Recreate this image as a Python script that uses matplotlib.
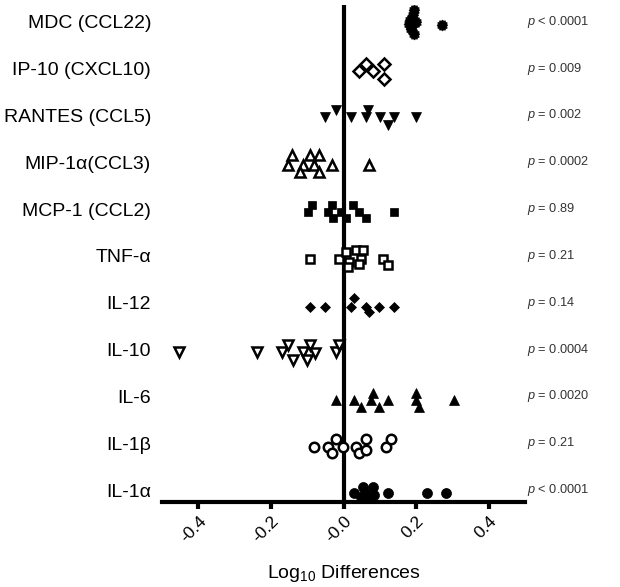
import numpy as np
import matplotlib
matplotlib.use('Agg')
import matplotlib.pyplot as plt

plt.rcParams['font.family'] = ['Liberation Sans', 'DejaVu Sans']
plt.rcParams['mathtext.fontset'] = 'custom'
plt.rcParams['mathtext.rm'] = 'Liberation Sans'
plt.rcParams['mathtext.it'] = 'Liberation Sans:italic'

# categories, bottom to top
labels = ['IL-1\u03b1', 'IL-1\u03b2', 'IL-6', 'IL-10', 'IL-12', 'TNF-\u03b1',
          'MCP-1 (CCL2)', 'MIP-1\u03b1(CCL3)', 'RANTES (CCL5)', 'IP-10 (CXCL10)',
          'MDC (CCL22)']
pvals = ['< 0.0001', '= 0.21', '= 0.0020', '= 0.0004', '= 0.14', '= 0.21',
         '= 0.89', '= 0.0002', '= 0.002', '= 0.009', '< 0.0001']

# log10 differences per cytokine, with the vertical spread of each dot
il1a_x = [0.028, 0.053, 0.081, 0.047, 0.067, 0.083, 0.060, 0.122, 0.231, 0.281]
il1a_dy = [-0.06, 0.06, 0.06, -0.15, -0.15, -0.10, -0.06, -0.06, -0.06, -0.06]
il1b_x = [-0.083, -0.044, -0.031, -0.022, -0.003, 0.033, 0.042, 0.061, 0.061, 0.117, 0.131]
il1b_dy = [-0.08, -0.08, -0.21, 0.09, -0.08, -0.08, -0.21, 0.09, -0.15, -0.08, 0.09]
il6_x = [-0.022, 0.028, 0.047, 0.075, 0.081, 0.097, 0.122, 0.200, 0.200, 0.208, 0.303]
il6_dy = [-0.08, -0.08, -0.23, -0.08, 0.07, -0.23, -0.08, 0.07, -0.08, -0.23, -0.08]
il10_x = [-0.453, -0.239, -0.169, -0.153, -0.139, -0.111, -0.092, -0.100, -0.078, -0.022, -0.014]
il10_dy = [-0.05, -0.05, -0.05, 0.10, -0.22, -0.05, 0.10, -0.22, -0.07, -0.05, 0.10]
il12_x = [-0.092, -0.050, 0.019, 0.028, 0.061, 0.069, 0.097, 0.139]
il12_dy = [-0.09, -0.09, -0.09, 0.10, -0.09, -0.20, -0.09, -0.09]
tnf_x = [-0.092, -0.014, 0.006, 0.014, 0.011, 0.033, 0.047, 0.053, 0.042, 0.108, 0.122]
tnf_dy = [-0.06, -0.06, 0.09, -0.13, -0.23, 0.13, -0.06, 0.13, -0.18, -0.06, -0.20]
mcp1_x = [-0.097, -0.086, -0.042, -0.031, -0.028, -0.008, 0.006, 0.025, 0.042, 0.061, 0.139]
mcp1_dy = [-0.06, 0.09, -0.06, 0.09, -0.20, -0.06, -0.20, 0.09, -0.06, -0.20, -0.06]
mip1a_x = [-0.142, -0.092, -0.069, -0.153, -0.111, -0.083, -0.031, 0.069, -0.119, -0.069]
mip1a_dy = [0.15, 0.15, 0.15, -0.06, -0.06, -0.06, -0.06, -0.06, -0.21, -0.21]
rantes_x = [-0.050, -0.020, 0.020, 0.061, 0.067, 0.100, 0.122, 0.139, 0.200]
rantes_dy = [-0.03, 0.12, -0.03, -0.03, 0.12, -0.03, -0.20, -0.03, -0.03]
ip10_x = [0.042, 0.061, 0.080, 0.110, 0.110]
ip10_dy = [-0.05, 0.10, -0.05, 0.10, -0.22]
mdc_x = [0.195, 0.190, 0.182, 0.180, 0.185, 0.195, 0.200, 0.190, 0.270]
mdc_dy = [0.25, 0.15, 0.05, -0.05, -0.15, -0.25, 0.00, -0.05, -0.06]

# bumpy filled marker for MDC
ang = np.linspace(0, 2 * np.pi, 25)[:-1]
rad = np.where(np.arange(24) % 2 == 0, 1.0, 0.82)
bumpy = list(zip(rad * np.cos(ang), rad * np.sin(ang)))

series = [
    (il1a_x, il1a_dy, 'o', True, 7.2),
    (il1b_x, il1b_dy, 'o', False, 6.8),
    (il6_x, il6_dy, '^', True, 7.6),
    (il10_x, il10_dy, 'v', False, 7.8),
    (il12_x, il12_dy, 'D', True, 5.2),
    (tnf_x, tnf_dy, 's', False, 6.0),
    (mcp1_x, mcp1_dy, 's', True, 6.3),
    (mip1a_x, mip1a_dy, '^', False, 7.8),
    (rantes_x, rantes_dy, 'v', True, 7.6),
    (ip10_x, ip10_dy, 'D', False, 6.2),
    (mdc_x, mdc_dy, bumpy, True, 7.8),
]

fig = plt.figure(figsize=(6.2, 5.87), dpi=100)
ax = fig.add_axes([0.2615, 0.1448, 0.5855, 0.8467])

ax.axvline(0, color='black', lw=3, zorder=1)
for i, (xs, dy, m, filled, ms) in enumerate(series):
    ys = i + np.array(dy)
    if filled:
        ax.plot(xs, ys, ls='none', marker=m, ms=ms, mfc='black', mec='black',
                mew=0.5, zorder=3)
    else:
        ax.plot(xs, ys, ls='none', marker=m, ms=ms, mfc='white', mec='black',
                mew=1.8, zorder=3)

ax.set_xlim(-0.5, 0.5)
ax.set_ylim(-0.256, 10.36)
ax.set_xticks([-0.4, -0.2, 0.0, 0.2, 0.4])
ax.set_xticklabels(['-0.4', '-0.2', '-0.0', '0.2', '0.4'], rotation=45,
                   ha='right', rotation_mode='anchor', fontsize=12.5)
ax.set_yticks(range(len(labels)))
ax.set_yticklabels(labels, fontsize=14)
ax.tick_params(axis='y', length=0, pad=8)
ax.tick_params(axis='x', length=5, width=3, pad=3)

for s in ['top', 'right', 'left']:
    ax.spines[s].set_visible(False)
ax.spines['bottom'].set_linewidth(3)

ax.set_xlabel('Log$_{10}$ Differences', fontsize=14, labelpad=13)

for i, p in enumerate(pvals):
    ax.text(1.005, i, '$p$ ' + p, transform=ax.get_yaxis_transform(),
            fontsize=9.2, va='center', ha='left', color='#333333')

fig.savefig('out.png', dpi=100)
